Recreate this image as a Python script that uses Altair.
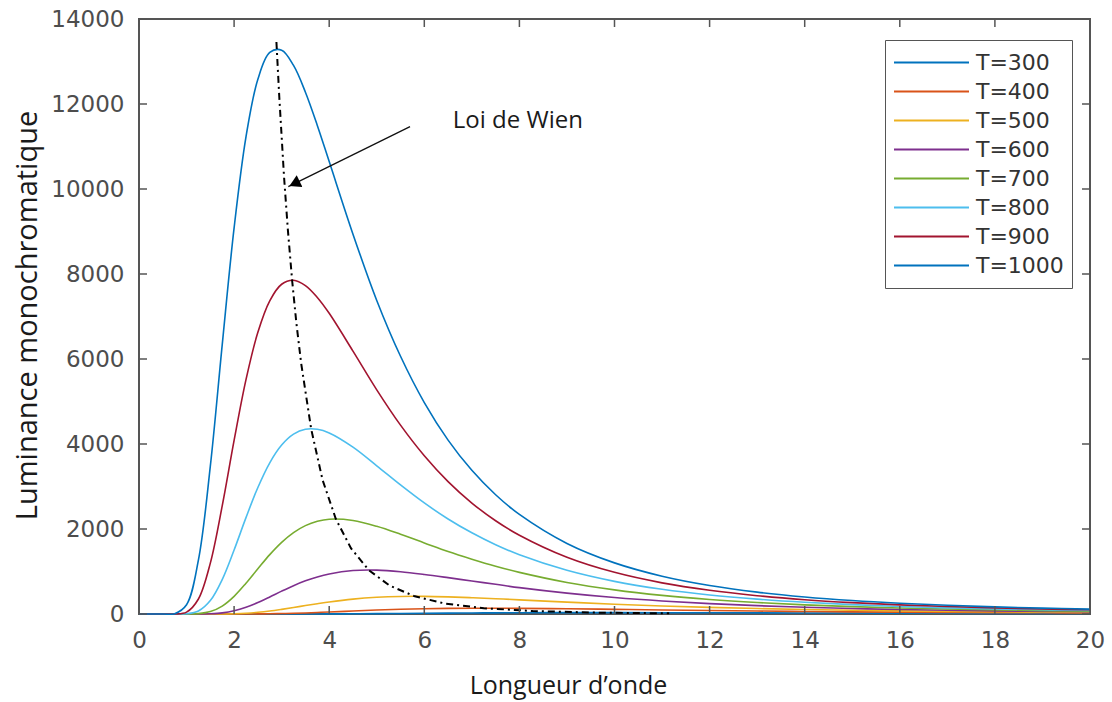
import altair as alt
import pandas as pd

# Wavelength grid shared by every curve (finer around the maxima)
wavelength = [0, 0.5, 0.75, 1.0, 1.25, 1.5, 1.75, 2.0, 2.25, 2.5, 2.75, 3.0,
              3.25, 3.5, 3.75, 4.0, 4.5, 5, 5.5, 6, 6.5, 7, 7.5, 8, 9, 10,
              11, 12, 13, 14, 15, 16, 17, 18, 19, 20]

temperatures = [300, 400, 500, 600, 700, 800, 900, 1000]

lum_300 = [0, 0, 0, 0, 0, 0, 0, 0, 0, 0, 0, 0, 0, 0, 1.5, 2, 5, 8, 12.5, 17,
           21, 24, 27, 30, 32, 32, 31, 29, 27, 24, 22, 19, 17, 15, 14, 12]
lum_400 = [0, 0, 0, 0, 0, 0, 0, 0, 0, 2, 5, 10, 17, 25, 36, 47, 71, 93, 111,
           124, 132, 136, 136, 133, 123, 109, 95, 82, 70, 60, 51, 44, 38, 32,
           28, 24]
lum_500 = [0, 0, 0, 0, 0, 0, 0, 7, 19, 40, 70, 109, 152, 198, 242, 284, 351,
           393, 413, 415, 403, 384, 360, 333, 280, 231, 189, 156, 128, 106, 88,
           73, 61, 52, 44, 38]
lum_600 = [0, 0, 0, 0, 0, 6, 26, 75, 158, 270, 401, 538, 667, 780, 873, 943,
           1022, 1032, 995, 931, 855, 775, 699, 620, 491, 387, 306, 244, 196,
           159, 129, 106, 88, 73, 62, 52]
lum_700 = [0, 0, 0, 0, 9, 57, 187, 416, 724, 1064, 1397, 1686, 1915, 2079,
           2181, 2230, 2200, 2063, 1876, 1672, 1469, 1290, 1125, 980, 743, 568,
           438, 342, 270, 215, 174, 141, 116, 96, 80, 67]
lum_800 = [0, 0, 0, 6, 71, 316, 811, 1506, 2267, 2977, 3558, 3975, 4231, 4346,
           4346, 4261, 3927, 3488, 3037, 2613, 2236, 1910, 1630, 1394, 1028,
           768, 582, 447, 349, 275, 220, 178, 145, 119, 99, 83]
lum_900 = [0, 0, 0, 44, 353, 1197, 2544, 4084, 5513, 6630, 7370, 7759, 7852,
           7726, 7448, 7075, 6185, 5275, 4444, 3724, 3116, 2611, 2194, 1853,
           1335, 980, 733, 557, 431, 337, 268, 215, 175, 143, 118, 99]
lum_1000 = [0, 0, 8, 218, 1272, 3478, 6334, 9084, 11227, 12582, 13212, 13267,
            12907, 12278, 11496, 10646, 8938, 7378, 6064, 4975, 4092, 3381,
            2806, 2343, 1660, 1203, 890, 671, 515, 401, 316, 253, 205, 167,
            138, 115]

series = [lum_300, lum_400, lum_500, lum_600, lum_700, lum_800, lum_900, lum_1000]
labels = [f"T={t}" for t in temperatures]
colors = ["#0072BD", "#D95319", "#EDB120", "#7E2F8E",
          "#77AC30", "#4DBEEE", "#A2142F", "#0072BD"]

# Locus of the maxima (Wien's displacement law)
wien_x = [2.89, 2.95, 3.05, 3.13, 3.22, 3.31, 3.41, 3.62, 3.86, 4.14, 4.46,
          4.83, 5.27, 5.8, 6.44, 7.25, 8.28, 9.66, 11.15]
wien_y = [13460, 12170, 10291, 9050, 7853, 6841, 5901, 4358, 3156, 2235, 1544,
          1034, 669, 416, 245, 136, 70, 32, 16]

# Annotation
wien_label = {"x": 6.6, "y": 11430, "text": "Loi de Wien"}
arrow_start = (5.70, 11466)
arrow_tip = (3.14, 10054)
arrow_head = (3.27, 10127)

x_ticks = [0, 2, 4, 6, 8, 10, 12, 14, 16, 18, 20]
y_ticks = [0, 2000, 4000, 6000, 8000, 10000, 12000, 14000]

W, H = 951, 595
frame = "#555555"

rows = []
for lab, vals in zip(labels, series):
    for x, y in zip(wavelength, vals):
        rows.append({"lambda": x, "L": y, "serie": lab})
df = pd.DataFrame(rows)

xs = alt.Scale(domain=[0, 20], nice=False, zero=False)
ys = alt.Scale(domain=[0, 14000], nice=False)

X = alt.X("lambda:Q", scale=xs,
          axis=alt.Axis(values=x_ticks, format="d", title="Longueur d’onde",
                        titleX=429, titleY=79, titleAlign="center",
                        titleBaseline="alphabetic", titleFontSize=25,
                        labelPadding=15, labelFlush=False))
Y = alt.Y("L:Q", scale=ys,
          axis=alt.Axis(values=y_ticks, format="d", title="Luminance monochromatique",
                        titleX=-103, titleY=296, titleAngle=270,
                        titleAlign="center", titleBaseline="alphabetic",
                        titleFontSize=29, labelPadding=15, labelFlush=False))

lines = alt.Chart(df).mark_line(strokeWidth=1.6, interpolate="catmull-rom").encode(
    x=X, y=Y,
    color=alt.Color("serie:N", sort=labels,
                    scale=alt.Scale(domain=labels, range=colors),
                    legend=alt.Legend(title=None, orient="none",
                                      legendX=746, legendY=21,
                                      symbolType="stroke", symbolSize=5625,
                                      symbolStrokeWidth=2,
                                      labelFont="DejaVu Sans", labelFontSize=22,
                                      labelColor="#333333", labelOffset=6,
                                      clipHeight=29, rowPadding=0,
                                      padding=8, strokeColor=frame,
                                      fillColor="white")),
)

wien = alt.Chart(pd.DataFrame({"lambda": wien_x, "L": wien_y})).mark_line(
    color="black", strokeWidth=2, strokeDash=[7, 4, 2, 4]
).encode(x=X, y=Y)

arrow = alt.Chart(pd.DataFrame({
    "lambda": [arrow_start[0]], "L": [arrow_start[1]],
    "x1": [arrow_tip[0]], "y1": [arrow_tip[1]]})).mark_rule(
    color="#111111", strokeWidth=1.3
).encode(x=X, y=Y, x2="x1:Q", y2="y1:Q")

head = alt.Chart(pd.DataFrame({"lambda": [arrow_head[0]], "L": [arrow_head[1]]})).mark_point(
    shape="triangle-up", filled=True, size=170, angle=244, color="black", opacity=1
).encode(x=X, y=Y)

label = alt.Chart(pd.DataFrame([{"lambda": wien_label["x"], "L": wien_label["y"],
                                 "text": wien_label["text"]}])).mark_text(
    align="left", baseline="alphabetic", font="Open Sans", fontSize=24,
    color="#1a1a1a"
).encode(x=X, y=Y, text="text:N")

# Inward ticks on all four sides of the box
xt = pd.DataFrame({"lambda": x_ticks})
yt = pd.DataFrame({"L": y_ticks})
tick_style = dict(color=frame, strokeWidth=1.5)
t_bottom = alt.Chart(xt).mark_rule(**tick_style).encode(
    x=X, y=alt.value(H), y2=alt.value(H - 8))
t_top = alt.Chart(xt).mark_rule(**tick_style).encode(
    x=X, y=alt.value(0), y2=alt.value(8))
t_left = alt.Chart(yt).mark_rule(**tick_style).encode(
    y=Y, x=alt.value(0), x2=alt.value(8))
t_right = alt.Chart(yt).mark_rule(**tick_style).encode(
    y=Y, x=alt.value(W), x2=alt.value(W - 8))

chart = alt.layer(
    lines, wien, arrow, head, label, t_bottom, t_top, t_left, t_right
).properties(
    width=W, height=H, background="white",
    autosize=alt.AutoSizeParams(type="none"),
    padding={"left": 139, "top": 19, "right": 22, "bottom": 88},
).configure_view(
    stroke=frame, strokeWidth=2
).configure_axis(
    domain=False, ticks=False, grid=False,
    labelFont="DejaVu Sans", labelFontSize=23, labelColor="#4d4d4d",
    titleFont="Open Sans", titleFontWeight="normal", titleColor="#1a1a1a",
)

chart.save("out.html", embed_options={"renderer": "svg", "actions": False})
